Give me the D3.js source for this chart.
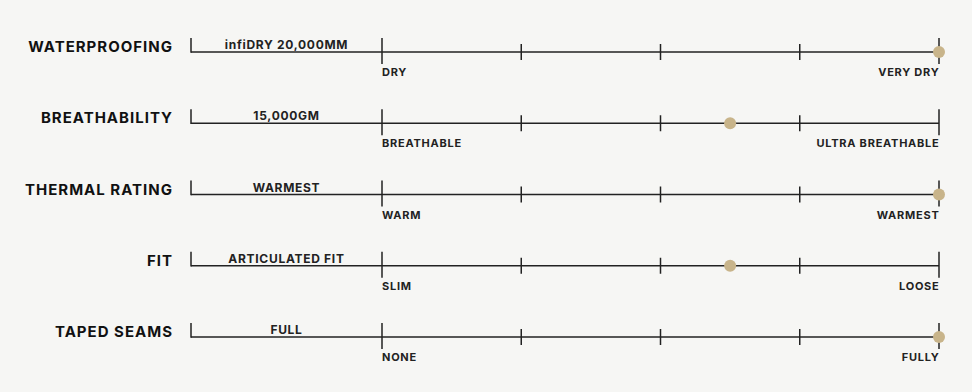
<!DOCTYPE html>
<html>
<head>
<meta charset="utf-8">
<script src="https://cdn.jsdelivr.net/npm/d3@7"></script>
<style>
  html, body { margin: 0; padding: 0; background: #f6f6f4; }
  svg { display: block; font-family: Inter, "Noto Sans", sans-serif; }
  .row-label { font-size: 15px; font-weight: 700; fill: #111; letter-spacing: 1px; }
  .value-label { font-size: 12px; font-weight: 700; fill: #222; letter-spacing: 0.7px; }
  .end-label { font-size: 11px; font-weight: 700; fill: #222; letter-spacing: 0.75px; }
  .axis-line { stroke: #222; stroke-width: 1.5; }
</style>
</head>
<body>
<div id="chart"></div>
<script>
const categories = ['WATERPROOFING', 'BREATHABILITY', 'THERMAL RATING', 'FIT', 'TAPED SEAMS']
const valueLabels = ['infiDRY 20,000MM', '15,000GM', 'WARMEST', 'ARTICULATED FIT', 'FULL']
const scores = [4, 2.5, 4, 2.5, 4]
const lowLabels = ['DRY', 'BREATHABLE', 'WARM', 'SLIM', 'NONE']
const highLabels = ['VERY DRY', 'ULTRA BREATHABLE', 'WARMEST', 'LOOSE', 'FULLY']
const ticks = [0, 1, 2, 3, 4]

const width = 972
const height = 392

const svg = d3.select('#chart').append('svg')
  .attr('width', width)
  .attr('height', height)

const x = d3.scaleLinear().domain([0, 4]).range([382, 939])
const y = d3.scalePoint().domain(categories).range([52, 337])

const bracketX = 191

const rows = svg.selectAll('g.row')
  .data(categories)
  .enter()
  .append('g')
  .attr('class', 'row')
  .attr('transform', d => `translate(0,${y(d)})`)

rows.append('text')
  .attr('class', 'row-label')
  .attr('x', 173)
  .attr('y', 0)
  .attr('text-anchor', 'end')
  .text(d => d)

// left bracket + baseline
rows.append('line')
  .attr('class', 'axis-line')
  .attr('x1', bracketX).attr('x2', bracketX)
  .attr('y1', -14).attr('y2', 0.75)

rows.append('line')
  .attr('class', 'axis-line')
  .attr('x1', bracketX).attr('x2', x(4))
  .attr('y1', 0).attr('y2', 0)

rows.append('text')
  .attr('class', 'value-label')
  .attr('x', (bracketX + x(0)) / 2)
  .attr('y', -3)
  .attr('text-anchor', 'middle')
  .text((d, i) => valueLabels[i])

rows.selectAll('line.tick')
  .data(ticks)
  .enter()
  .append('line')
  .attr('class', 'axis-line tick')
  .attr('x1', t => x(t)).attr('x2', t => x(t))
  .attr('y1', t => (t === 0 || t === 4) ? -14 : -8)
  .attr('y2', t => (t === 0 || t === 4) ? 12 : 8)

rows.append('text')
  .attr('class', 'end-label')
  .attr('x', x(0))
  .attr('y', 24)
  .text((d, i) => lowLabels[i])

rows.append('text')
  .attr('class', 'end-label')
  .attr('x', x(4) + 0.5)
  .attr('y', 24)
  .attr('text-anchor', 'end')
  .text((d, i) => highLabels[i])

rows.append('circle')
  .attr('cx', (d, i) => x(scores[i]))
  .attr('cy', 0)
  .attr('r', 6)
  .attr('fill', '#c8b48a')
</script>
</body>
</html>
